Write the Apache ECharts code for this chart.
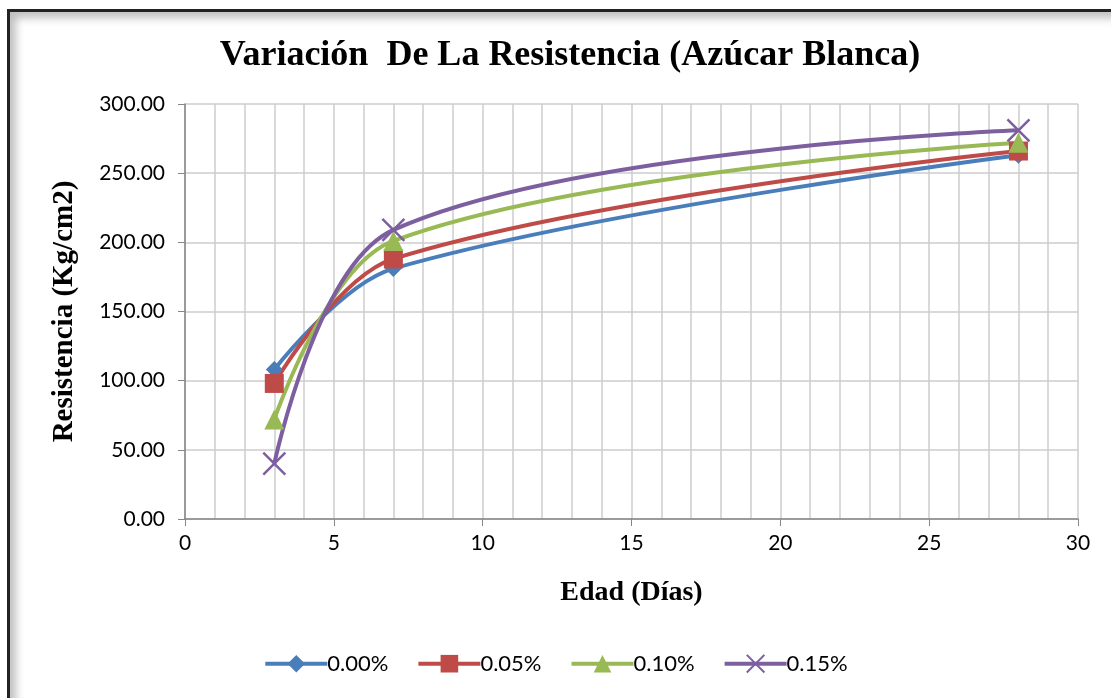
<!DOCTYPE html>
<html>
<head>
<meta charset="utf-8">
<script src="https://cdn.jsdelivr.net/npm/echarts@6/dist/echarts.min.js"></script>
<style>
html, body { margin: 0; padding: 0; background: #fff; }
#chart { width: 1111px; height: 698px; }
#frame {
	position: absolute; left: 7px; top: 9px; width: 1120px; height: 700px;
	border-left: 3px solid #222; border-top: 3px solid #222;
	box-shadow: inset 6px 6px 8px rgba(0,0,0,0.25);
	pointer-events: none;
}
</style>
</head>
<body>
<div id="chart"></div>
<div id="frame"></div>
<script>
// edades (dias) y resistencias
var edades = [3, 7, 28];
var s000 = [108, 181, 263];
var s005 = [98, 188, 266];
var s010 = [72, 201, 272];
var s015 = [40, 209, 281];
var nombres = ['0.00%', '0.05%', '0.10%', '0.15%'];
var colores = ['#4a7ebb', '#be4b48', '#98b954', '#7d5fa0'];

function pares(ys) {
	var out = [];
	for (var i = 0; i < edades.length; i++) {
		out.push([edades[i], ys[i]]);
	}
	return out;
}

var serieData = [s000, s005, s010, s015];
var simbolos = ['diamond', 'rect', 'triangle', 'path://M0,0 L10,10 M10,0 L0,10'];
var tamanos = [17, 19, 20, 22];

var series = [];
for (var i = 0; i < serieData.length; i++) {
	var s = {
		name: nombres[i],
		type: 'line',
		smooth: 0.35,
		data: pares(serieData[i]),
		symbol: simbolos[i],
		symbolSize: tamanos[i],
		lineStyle: { width: 4, color: colores[i] },
		itemStyle: { color: colores[i] }
	};
	if (i == 3) {
		s.itemStyle = { color: 'none', borderColor: colores[i], borderWidth: 2.5 };
	}
	series.push(s);
}

var option = {
	animation: false,
	title: {
		text: 'Variación  De La Resistencia (Azúcar Blanca)',
		left: 565,
		textAlign: 'center',
		top: 33,
		textStyle: { fontFamily: 'Liberation Serif', fontWeight: 'bold', fontSize: 36, color: '#000' }
	},
	legend: {
		bottom: 18,
		left: 'center',
		itemWidth: 62,
		itemHeight: 22,
		itemGap: 28,
		lineStyle: { width: 4 },
		textStyle: { fontFamily: 'Lato', fontSize: 22, color: '#000', padding: [0, 0, 0, -5] },
		data: nombres
	},
	grid: { left: 185, right: 33, top: 104, bottom: 179 },
	xAxis: {
		type: 'value',
		min: 0, max: 30, interval: 5,
		name: 'Edad (Días)',
		nameLocation: 'middle',
		nameGap: 60,
		nameTextStyle: { fontFamily: 'Liberation Serif', fontWeight: 'bold', fontSize: 28, color: '#000' },
		axisLine: { lineStyle: { color: '#868686', width: 1.5 } },
		axisTick: { show: true, length: 7, lineStyle: { color: '#868686' } },
		axisLabel: { fontFamily: 'Lato', fontSize: 21, color: '#000', margin: 14 },
		splitLine: { show: true, lineStyle: { color: '#cdcdcd', width: 1.5 } },
		minorTick: { show: false, splitNumber: 5 },
		minorSplitLine: { show: true, lineStyle: { color: '#cdcdcd', width: 1.5 } }
	},
	yAxis: {
		type: 'value',
		min: 0, max: 300, interval: 50,
		name: 'Resistencia (Kg/cm2)',
		nameLocation: 'middle',
		nameGap: 106,
		nameTextStyle: { fontFamily: 'Liberation Serif', fontWeight: 'bold', fontSize: 29, color: '#000' },
		axisLine: { show: true, lineStyle: { color: '#868686', width: 1.5 } },
		axisTick: { show: true, length: 7, lineStyle: { color: '#868686' } },
		axisLabel: {
			fontFamily: 'Lato', fontSize: 21, color: '#000', margin: 20,
			formatter: function (v) { return v.toFixed(2); }
		},
		splitLine: { show: true, lineStyle: { color: '#cdcdcd', width: 1.5 } }
	},
	series: series
};

var chart = echarts.init(document.getElementById('chart'));
chart.setOption(option);
</script>
</body>
</html>
